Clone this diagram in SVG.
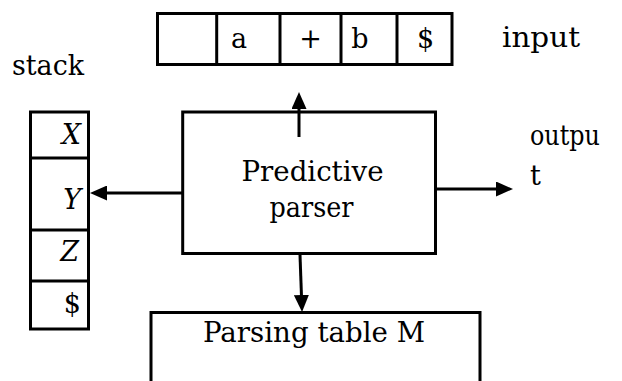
<svg xmlns="http://www.w3.org/2000/svg" width="622" height="381" viewBox="0 0 622 381">
<defs>
<style>
.box{fill:none;stroke:#000;stroke-width:3}
.ln{fill:none;stroke:#000;stroke-width:3}
.con{fill:none;stroke:#000;stroke-width:3}
text{font-family:"DejaVu Serif","Liberation Serif",serif;font-size:27px;fill:#000}
.c{text-anchor:middle}
.r{text-anchor:end}
.it{font-style:italic}
</style>
<marker id="ah" viewBox="0 0 17 15" refX="10" refY="7.5" markerWidth="17" markerHeight="15" markerUnits="userSpaceOnUse" orient="auto">
<path d="M0,0 L17,7.5 L0,15 z" fill="#000"/>
</marker>
</defs>
<rect width="622" height="381" fill="#fff"/>
<g id="input-tape">
<rect class="box" x="157.5" y="13.5" width="294.5" height="51"/>
<line class="ln" x1="216.7" y1="13.5" x2="216.7" y2="64.5"/>
<line class="ln" x1="280" y1="13.5" x2="280" y2="64.5"/>
<line class="ln" x1="341" y1="13.5" x2="341" y2="64.5"/>
<line class="ln" x1="397" y1="13.5" x2="397" y2="64.5"/>
<text class="c" x="239" y="48">a</text>
<text class="c" x="310.5" y="48">+</text>
<text class="c" x="360" y="48">b</text>
<text class="c" x="425.5" y="48">$</text>
</g>
<g id="input-label"><text x="502" y="47" textLength="78" lengthAdjust="spacingAndGlyphs">input</text></g>
<g id="stack-label"><text x="12" y="75" textLength="72" lengthAdjust="spacingAndGlyphs">stack</text></g>
<g id="stack">
<rect class="box" x="30.5" y="112" width="58" height="217"/>
<line class="ln" x1="30.5" y1="158" x2="88.5" y2="158"/>
<line class="ln" x1="30.5" y1="230" x2="88.5" y2="230"/>
<line class="ln" x1="30.5" y1="281" x2="88.5" y2="281"/>
<text class="r it" x="81" y="144">X</text>
<text class="r it" x="81" y="209">Y</text>
<text class="r it" x="79" y="261">Z</text>
<text class="r" x="81" y="313">$</text>
</g>
<g id="parser">
<rect class="box" x="182.7" y="112" width="252.8" height="141.5"/>
<text class="c" x="312.5" y="181" textLength="142" lengthAdjust="spacingAndGlyphs">Predictive</text>
<text class="c" x="311.5" y="217" textLength="84" lengthAdjust="spacingAndGlyphs">parser</text>
</g>
<g id="output-label">
<text x="530" y="145" textLength="70" lengthAdjust="spacingAndGlyphs">outpu</text>
<text x="530" y="185">t</text>
</g>
<g id="parsing-table">
<path class="box" d="M151,392 V312.5 H480 V392"/>
<text x="203" y="342" textLength="222" lengthAdjust="spacingAndGlyphs">Parsing table M</text>
</g>
<g id="connectors">
<line class="con" x1="299" y1="137" x2="299" y2="99" marker-end="url(#ah)"/>
<line class="con" x1="182" y1="193" x2="97" y2="193" marker-end="url(#ah)"/>
<line class="con" x1="435" y1="189" x2="506" y2="189" marker-end="url(#ah)"/>
<line class="con" x1="300" y1="255" x2="301.8" y2="305" marker-end="url(#ah)"/>
</g>
</svg>
